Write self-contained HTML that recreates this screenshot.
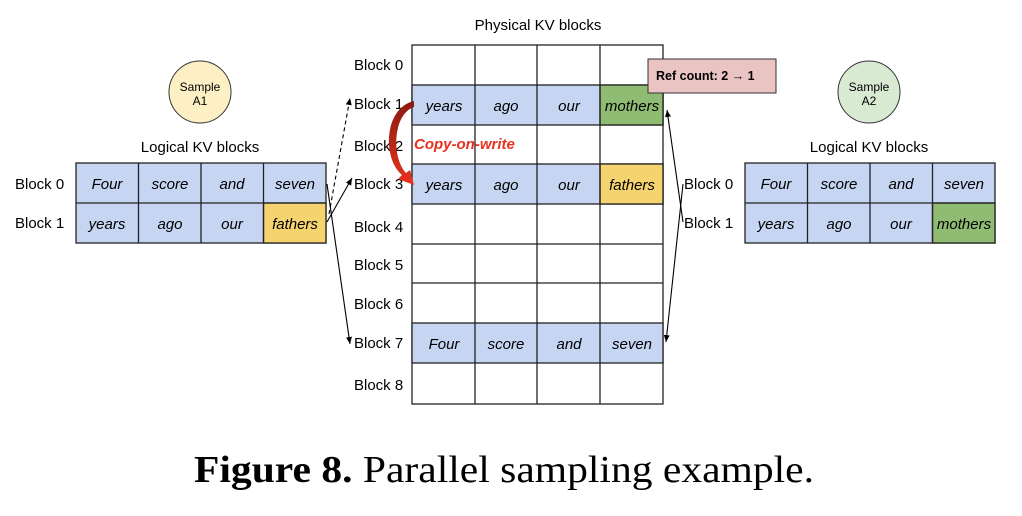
<!DOCTYPE html>
<html><head><meta charset="utf-8"><style>
html,body{margin:0;padding:0;background:#fff;}
svg{display:block;}
text{font-family:"Liberation Sans",Arial,sans-serif;}
.l{font-size:15px;fill:#000;}
.c{font-size:15px;font-style:italic;fill:#000;text-anchor:middle;}
</style></head><body>
<svg width="1022" height="516" viewBox="0 0 1022 516" xmlns="http://www.w3.org/2000/svg">
<defs>
<marker id="ah" markerWidth="8" markerHeight="8" refX="7" refY="4" orient="auto" markerUnits="userSpaceOnUse"><path d="M0,1 L7,4 L0,7 Z" fill="#000"/></marker>
<linearGradient id="rg" x1="0" y1="0" x2="0" y2="1"><stop offset="0" stop-color="#8b1a0e"/><stop offset="1" stop-color="#e8321e"/></linearGradient>
</defs>

<!-- Left sample -->
<circle cx="200" cy="92" r="31" fill="#fdf0c4" stroke="#333" stroke-width="1"/>
<text x="200" y="91" font-size="12" text-anchor="middle">Sample</text>
<text x="200" y="105" font-size="12" text-anchor="middle">A1</text>
<text x="200" y="152" class="l" text-anchor="middle">Logical KV blocks</text>
<g stroke="#222" stroke-width="1.3">
<rect x="76" y="163" width="250" height="80" fill="#c6d5f2"/>
<rect x="263.5" y="203" width="62.5" height="40" fill="#f5d36f"/>
<line x1="76" y1="203" x2="326" y2="203"/>
<line x1="138.5" y1="163" x2="138.5" y2="243"/>
<line x1="201" y1="163" x2="201" y2="243"/>
<line x1="263.5" y1="163" x2="263.5" y2="243"/>
</g>
<text x="15" y="189" class="l">Block 0</text>
<text x="15" y="228" class="l">Block 1</text>
<text x="107" y="189" class="c">Four</text><text x="170" y="189" class="c">score</text><text x="232" y="189" class="c">and</text><text x="295" y="189" class="c">seven</text>
<text x="107" y="229" class="c">years</text><text x="170" y="229" class="c">ago</text><text x="232" y="229" class="c">our</text><text x="295" y="229" class="c">fathers</text>

<!-- Physical -->
<text x="538" y="30" class="l" text-anchor="middle">Physical KV blocks</text>
<g stroke="#222" stroke-width="1.3">
<rect x="412" y="45" width="251" height="359" fill="#fff"/>
<rect x="412" y="85" width="251" height="40" fill="#c6d5f2"/>
<rect x="600" y="85" width="63" height="40" fill="#8fbb73"/>
<rect x="412" y="164" width="251" height="40" fill="#c6d5f2"/>
<rect x="600" y="164" width="63" height="40" fill="#f5d36f"/>
<rect x="412" y="323" width="251" height="40" fill="#c6d5f2"/>
<line x1="412" y1="244" x2="663" y2="244"/>
<line x1="412" y1="283" x2="663" y2="283"/>
<line x1="475" y1="45" x2="475" y2="404"/>
<line x1="537" y1="45" x2="537" y2="404"/>
<line x1="600" y1="45" x2="600" y2="404"/>
</g>
<text x="354" y="70" class="l">Block 0</text>
<text x="354" y="109" class="l">Block 1</text>
<text x="354" y="151" class="l">Block 2</text>
<text x="354" y="189" class="l">Block 3</text>
<text x="354" y="232" class="l">Block 4</text>
<text x="354" y="270" class="l">Block 5</text>
<text x="354" y="309" class="l">Block 6</text>
<text x="354" y="348" class="l">Block 7</text>
<text x="354" y="390" class="l">Block 8</text>
<text x="444" y="111" class="c">years</text><text x="506" y="111" class="c">ago</text><text x="569" y="111" class="c">our</text><text x="632" y="111" class="c">mothers</text>
<text x="444" y="190" class="c">years</text><text x="506" y="190" class="c">ago</text><text x="569" y="190" class="c">our</text><text x="632" y="190" class="c">fathers</text>
<text x="444" y="349" class="c">Four</text><text x="506" y="349" class="c">score</text><text x="569" y="349" class="c">and</text><text x="632" y="349" class="c">seven</text>
<text x="414" y="149" font-size="15" font-weight="bold" font-style="italic" fill="#e8321e">Copy-on-write</text>

<!-- red curved arrow -->
<path d="M414,101 C384,108 382,158 402,175 L398,179 L414,185 L410,170 L406,173 C391,157 393,114 414,107 Z" fill="url(#rg)"/>

<!-- Ref count -->
<rect x="648" y="59" width="128" height="34" fill="#eac4c2" stroke="#333" stroke-width="1"/>
<text x="656" y="80" font-size="12.5" font-weight="bold">Ref count: 2 → 1</text>

<!-- Right sample -->
<circle cx="869" cy="92" r="31" fill="#d9ead3" stroke="#333" stroke-width="1"/>
<text x="869" y="91" font-size="12" text-anchor="middle">Sample</text>
<text x="869" y="105" font-size="12" text-anchor="middle">A2</text>
<text x="869" y="152" class="l" text-anchor="middle">Logical KV blocks</text>
<g stroke="#222" stroke-width="1.3">
<rect x="745" y="163" width="250" height="80" fill="#c6d5f2"/>
<rect x="932.5" y="203" width="62.5" height="40" fill="#8fbb73"/>
<line x1="745" y1="203" x2="995" y2="203"/>
<line x1="807.5" y1="163" x2="807.5" y2="243"/>
<line x1="870" y1="163" x2="870" y2="243"/>
<line x1="932.5" y1="163" x2="932.5" y2="243"/>
</g>
<text x="684" y="189" class="l">Block 0</text>
<text x="684" y="228" class="l">Block 1</text>
<text x="776" y="189" class="c">Four</text><text x="839" y="189" class="c">score</text><text x="901" y="189" class="c">and</text><text x="964" y="189" class="c">seven</text>
<text x="776" y="229" class="c">years</text><text x="839" y="229" class="c">ago</text><text x="901" y="229" class="c">our</text><text x="964" y="229" class="c">mothers</text>

<!-- connectors -->
<g stroke="#000" stroke-width="1.1" fill="none">
<line x1="327" y1="184" x2="350" y2="344" marker-end="url(#ah)"/>
<line x1="327" y1="222" x2="352" y2="178" marker-end="url(#ah)"/>
<line x1="329" y1="214" x2="350" y2="98" stroke-dasharray="4,3" marker-end="url(#ah)"/>
<line x1="683" y1="184" x2="666" y2="342" marker-end="url(#ah)"/>
<line x1="683" y1="222" x2="667" y2="110" marker-end="url(#ah)"/>
</g>

<text x="504" y="482" font-family="Liberation Serif, serif" font-size="38" text-anchor="middle" textLength="620" lengthAdjust="spacingAndGlyphs" style="font-family:'Liberation Serif',serif"><tspan font-weight="bold">Figure 8.</tspan> Parallel sampling example.</text>
</svg>
</body></html>
